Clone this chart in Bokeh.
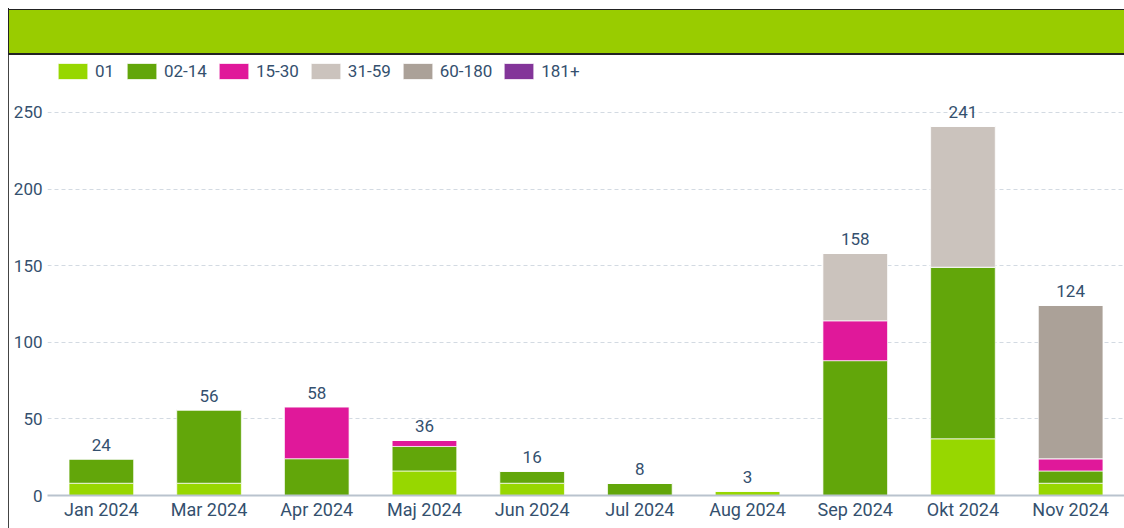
from bokeh.plotting import figure
from bokeh.models import ColumnDataSource, FactorRange, Legend, LegendItem, FixedTicker, Div
from bokeh.layouts import column
from bokeh.core.properties import value
from bokeh.embed import file_html
from bokeh.resources import INLINE

months = ["Jan 2024", "Mar 2024", "Apr 2024", "Maj 2024", "Jun 2024",
          "Jul 2024", "Aug 2024", "Sep 2024", "Okt 2024", "Nov 2024"]
series_names = ["01", "02-14", "15-30", "31-59", "60-180", "181+"]
s01 = [8, 8, 0, 16, 8, 0, 3, 0, 37, 8]
s02_14 = [16, 48, 24, 16, 8, 8, 0, 88, 112, 8]
s15_30 = [0, 0, 34, 4, 0, 0, 0, 26, 0, 8]
s31_59 = [0, 0, 0, 0, 0, 0, 0, 44, 92, 0]
s60_180 = [0, 0, 0, 0, 0, 0, 0, 0, 0, 100]
s181 = [0, 0, 0, 0, 0, 0, 0, 0, 0, 0]
colors = ["#97D700", "#62A60A", "#E0189A", "#CBC3BD", "#ABA198", "#833599"]
y_ticks = [0, 50, 100, 150, 200, 250]

TEXT = "#34506E"
FONT = "Roboto"

keys = ["s01", "s02_14", "s15_30", "s31_59", "s60_180", "s181"]
vals = [s01, s02_14, s15_30, s31_59, s60_180, s181]
data = {"month": months}
for k, v in zip(keys, vals):
    data[k] = v
totals = [sum(x) for x in zip(*vals)]
data["total"] = totals
data["label"] = [str(t) for t in totals]
src = ColumnDataSource(data)

p = figure(x_range=FactorRange(*months, range_padding=0), y_range=(0, 286.5),
           width=1116, height=473, output_backend="svg", toolbar_location=None,
           min_border_left=39, min_border_right=0, min_border_bottom=33, min_border_top=1)
p.margin = (0, 0, 0, 8)
p.outline_line_color = None
p.border_fill_color = None
p.background_fill_color = "white"
p.styles = {"background": "linear-gradient(to right, #444444 0px, #444444 1px, #ffffff 1px, #ffffff 100%)"}

rs = p.vbar_stack(keys, x="month", width=0.6, source=src, color=colors,
                  line_color="white", line_width=1, line_alpha=0.7)

p.text(x="month", y="total", text="label", source=src, y_offset=-8,
       text_align="center", text_baseline="bottom", text_color=TEXT,
       text_font=value(FONT), text_font_size="17px")

legend = Legend(items=[LegendItem(label=n, renderers=[r]) for n, r in zip(series_names, rs)],
                orientation="horizontal", location=(7, 414))
legend.glyph_width = 37
legend.glyph_height = 20
legend.label_standoff = 4
legend.spacing = 8
legend.padding = 0
legend.margin = 0
legend.label_text_font = FONT
legend.label_text_font_size = "17px"
legend.label_text_color = TEXT
legend.border_line_color = None
legend.background_fill_alpha = 0
p.add_layout(legend)

p.xgrid.grid_line_color = None
p.ygrid.grid_line_color = "#D3DAE2"
p.ygrid.grid_line_dash = "4 3"
p.ygrid.grid_line_width = 1

p.yaxis.ticker = FixedTicker(ticks=y_ticks)
p.yaxis.axis_line_color = None
p.yaxis.major_tick_line_color = None
p.yaxis.minor_tick_line_color = None
p.yaxis.major_tick_out = 0
p.yaxis.major_label_standoff = 5
p.yaxis.major_label_text_font = FONT
p.yaxis.major_label_text_font_size = "17px"
p.yaxis.major_label_text_color = TEXT

p.xaxis.axis_line_color = "#B9C3CE"
p.xaxis.axis_line_width = 2
p.xaxis.major_tick_line_color = None
p.xaxis.minor_tick_line_color = None
p.xaxis.major_tick_out = 0
p.xaxis.major_label_standoff = 3
p.xaxis.major_label_text_font = FONT
p.xaxis.major_label_text_font_size = "18px"
p.xaxis.major_label_text_color = TEXT

header = Div(text="", width=1116, height=47,
             styles={"background": "linear-gradient(to right, #222222 0px, #222222 1px, transparent 1px, transparent 100%), "
                                   "linear-gradient(to bottom, #ffffff 0px, #ffffff 1px, #222222 1px, #222222 2px, #99CC00 2px, #99CC00 45px, #222222 45px, #222222 47px)"})
header.margin = (8, 0, 0, 8)

layout = column(header, p, spacing=0)
open("out.html", "w").write(file_html(layout, INLINE))
